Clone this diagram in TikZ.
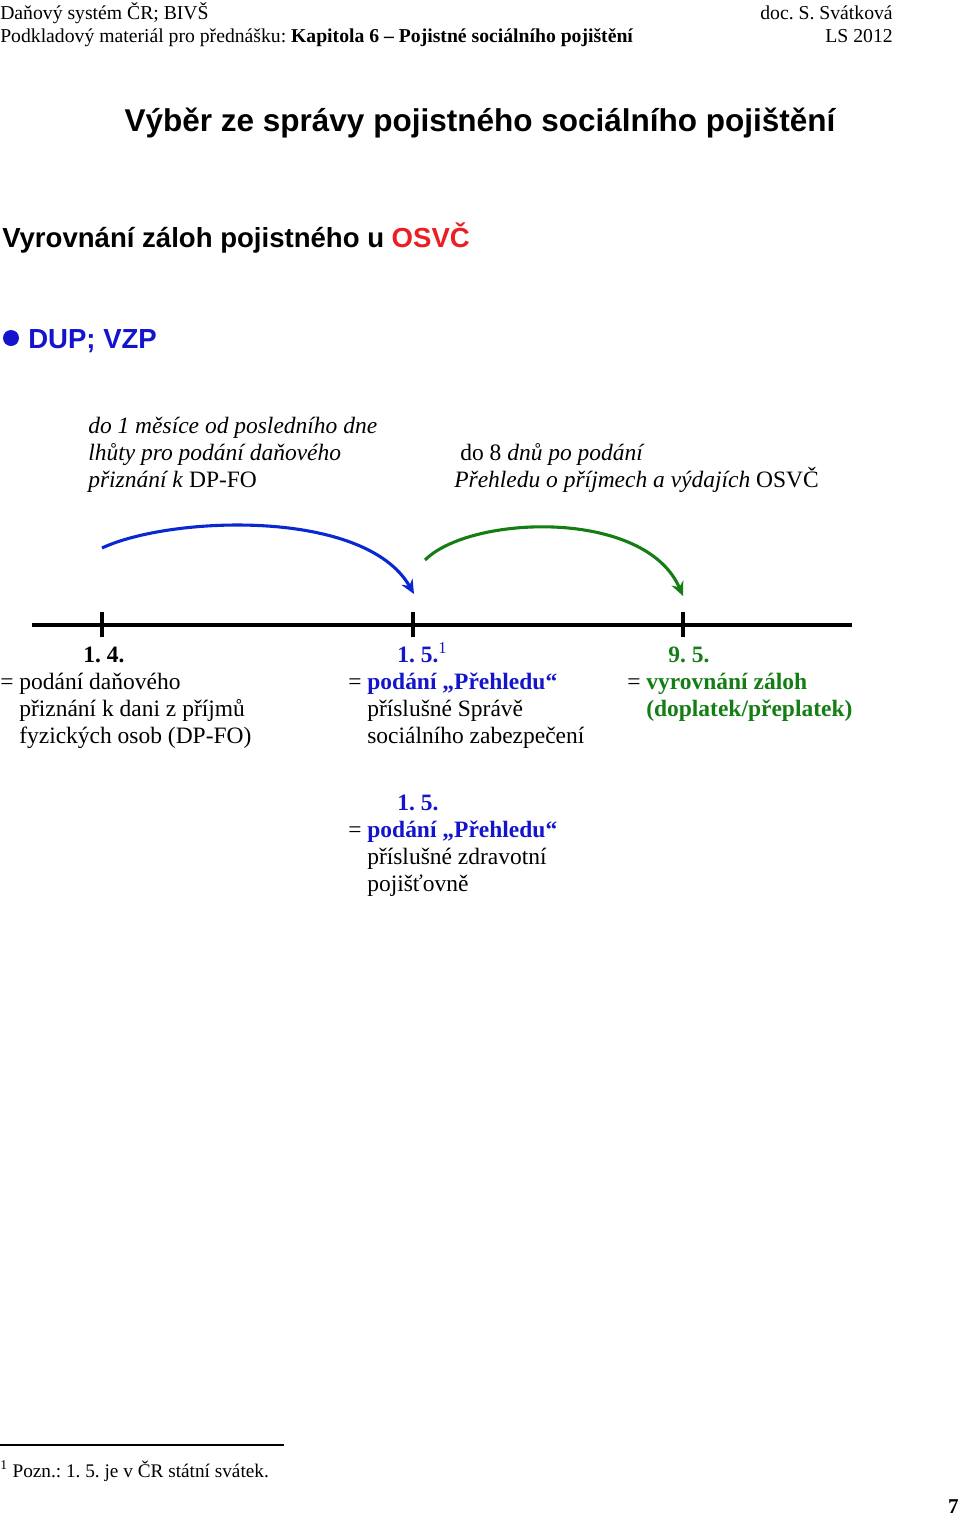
\documentclass[tikz,border=0pt]{standalone}
\usepackage{fontspec}
\setmainfont{Liberation Serif}
\setsansfont{Liberation Sans}
\usetikzlibrary{positioning,arrows.meta}
\definecolor{textblue}{RGB}{20,20,205}
\definecolor{arcblue}{RGB}{10,40,210}
\definecolor{textgreen}{RGB}{20,125,20}
\definecolor{osvcred}{RGB}{235,30,35}

\newcommand{\indnt}{\hspace*{13.5pt}}

% multi-line nodes sit on the baseline of their last line
\tikzset{
  txt/.style={anchor=base west, inner sep=0pt, align=left, font=\fontsize{16.7}{19.2}\selectfont},
  hdr/.style={anchor=base west, inner sep=0pt, font=\fontsize{14}{16}\selectfont},
  head/.style={anchor=base west, inner sep=0pt, font=\sffamily\bfseries\fontsize{19.6}{22}\selectfont},
  date/.style={anchor=base west, inner sep=0pt, font=\bfseries\fontsize{16.7}{19.2}\selectfont},
  arc/.style={line width=2.2pt, -{Stealth[length=10pt,width=9pt]}},
  tick/.style={line width=2.2pt}
}

\begin{document}
\frenchspacing
\begin{tikzpicture}[x=0.025cm, y=-0.025cm]
  \useasboundingbox (0,0) rectangle (960,1515);

  % page header
  \node[hdr] (course) at (0,19) {Daňový systém ČR; BIVŠ};
  \node[hdr, anchor=base east] (author) at (893,19) {doc. S. Svátková};
  \node[hdr] (material) at (0,42) {Podkladový materiál pro přednášku: \textbf{Kapitola 6 – Pojistné sociálního pojištění}};
  \node[hdr, anchor=base east] (term) at (893,42) {LS 2012};

  % headings
  \node[head, anchor=base, font=\sffamily\bfseries\fontsize{22.4}{25}\selectfont] (title) at (480,131) {Výběr ze správy pojistného sociálního pojištění};
  \node[head] (subtitle) at (2,247) {Vyrovnání záloh pojistného u \textcolor{osvcred}{OSVČ}};
  \fill[textblue] (11,338) circle (8);
  \node[head, text=textblue] (dup) at (28,348) {DUP; VZP};

  % deadlines above the arcs
  \node[txt] (month) at (88,487) {\textit{do 1 měsíce od posledního dne}\\\textit{lhůty pro podání daňového}\\\textit{přiznání k} DP-FO};
  \node[txt] (days) at (454,487) {\hspace*{4.3pt}do 8 \textit{dnů po podání}\\\textit{Přehledu o příjmech a výdajích} OSVČ};

  % time line
  \coordinate (lstart) at (32,625);
  \coordinate (lend) at (852,625);
  \draw[line width=2.8pt] (lstart) -- (lend);
  \coordinate (aprtop) at (102,612);
  \coordinate (maytop) at (413,612);
  \coordinate (ninetop) at (683,612);
  \draw[tick] (aprtop) -- ++(0,25);
  \draw[tick] (maytop) -- ++(0,25);
  \draw[tick] (ninetop) -- ++(0,25);

  % arcs
  \coordinate (bluefrom) at (102,548);
  \coordinate (blueto) at (414,594);
  \coordinate (greenfrom) at (425,560);
  \coordinate (greento) at (683,596);
  \draw[arc, arcblue] (bluefrom) .. controls (170,516) and (365,508) .. (blueto);
  \draw[arc, textgreen] (greenfrom) .. controls (470,515) and (645,508) .. (greento);

  % dates
  \node[date] (apr) at (83,662) {1. 4.};
  \node[date, text=textblue] (may) at (397,662) {1. 5.\textsuperscript{\mdseries 1}};
  \node[date, text=textgreen] (nine) at (668,662) {9. 5.};

  \node[txt] (taxreturn) at (0,743) {= podání daňového\\\indnt přiznání k dani z příjmů\\\indnt fyzických osob (DP-FO)};
  \node[txt] (ssreport) at (348,743) {= \textcolor{textblue}{\textbf{podání „Přehledu“}}\\\indnt příslušné Správě\\\indnt sociálního zabezpečení};
  \node[txt, text=textgreen, font=\bfseries\fontsize{16.7}{19.2}\selectfont] (settle) at (627,716) {\textcolor{black}{\mdseries =} vyrovnání záloh\\\indnt (doplatek/přeplatek)};

  \node[date, text=textblue] (maytwo) at (397,810) {1. 5.};
  \node[txt] (hireport) at (348,891) {= \textcolor{textblue}{\textbf{podání „Přehledu“}}\\\indnt příslušné zdravotní\\\indnt pojišťovně};

  % footnote
  \coordinate (rulel) at (0,1445);
  \coordinate (ruler) at (284,1445);
  \draw[line width=1pt] (rulel) -- (ruler);
  \node[anchor=base west, inner sep=0pt, font=\fontsize{13.7}{16}\selectfont] (note) at (0,1477) {\textsuperscript{1} Pozn.: 1. 5. je v ČR státní svátek.};
  \node[anchor=base east, inner sep=0pt, font=\bfseries\fontsize{15}{16}\selectfont] (page) at (959,1513) {7};
\end{tikzpicture}
\end{document}
